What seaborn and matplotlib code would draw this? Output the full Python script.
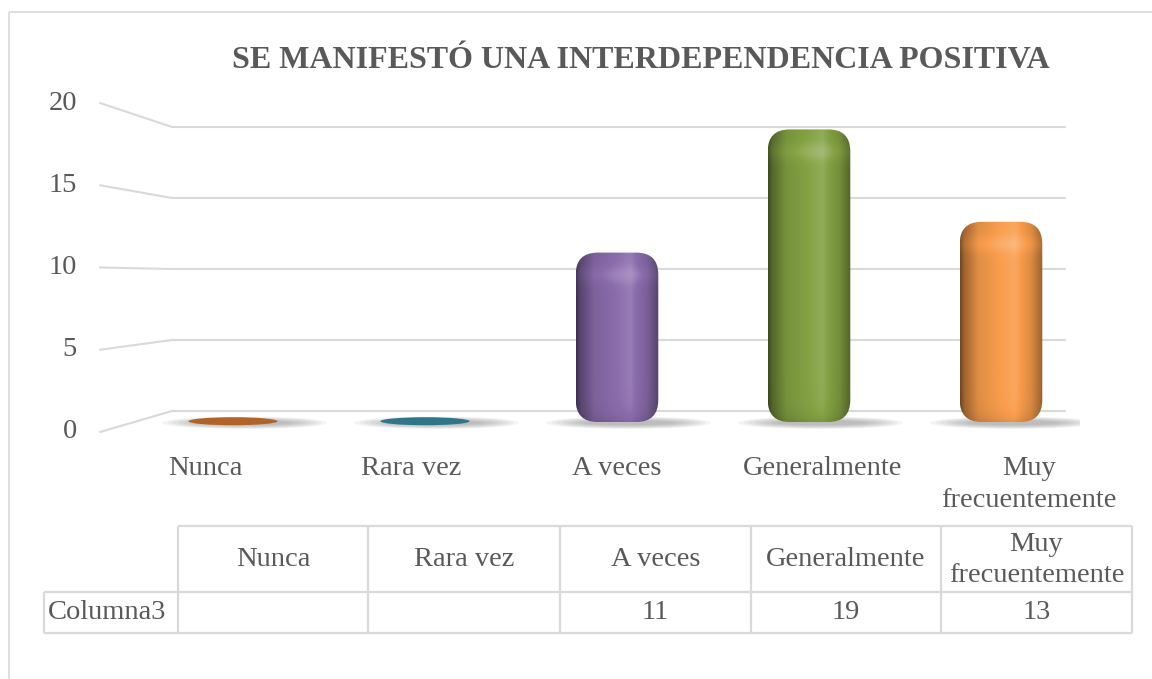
import numpy as np
import pandas as pd
import matplotlib
matplotlib.use("Agg")
import matplotlib.pyplot as plt
import seaborn as sns
from matplotlib.patches import FancyBboxPatch, Ellipse, Rectangle
from matplotlib.colors import to_rgb

# ----------------------------
# Data
# ----------------------------
categories = ["Nunca", "Rara vez", "A veces", "Generalmente", "Muy frecuentemente"]
values = [np.nan, np.nan, 11, 19, 13]   # blank cells in the data table
colors = ["#B0642A", "#2F7688", "#8A6CAC", "#84A243", "#F99D4C"]
yticks = [0, 5, 10, 15, 20]
series_name = "Columna3"
title = "SE MANIFESTÓ UNA INTERDEPENDENCIA POSITIVA"

sns.set_theme(style="white")
plt.rcParams["font.family"] = ["Liberation Serif", "DejaVu Serif"]
TXT = "#595959"
GRID = "#D9D9D9"
FS = 20.5

W, H = 1152, 679
fig = plt.figure(figsize=(W / 100, H / 100), dpi=100, facecolor="white")

def fx(px): return px / W
def fy(py): return 1 - py / H

# front plane of the 3d-ish chart: category i near 233 + 192*i px, value 0 at 422 px
X0, XS, Y0, YS = 233, 192, 422, 15.4
L, R, T, B = 95, 1080, 95, 445
ax = fig.add_axes([fx(L), fy(B), fx(R) - fx(L), fy(T) - fy(B)])
ax.patch.set_alpha(0)

def dx(px): return (px - X0) / XS
def dy(py): return (Y0 - py) / YS

df = pd.DataFrame({"cat": categories, "val": np.nan_to_num(values)})
sns.barplot(data=df, x="cat", y="val", hue="cat", order=categories, hue_order=categories,
            palette=colors, width=0.43, legend=False, ax=ax)


def shade_img(c, h_px, nx=160):
    base = np.array(to_rgb(c))
    ny = max(int(h_px), 2)
    t = np.linspace(0, 1, nx)
    f = np.interp(t, [0, .05, .22, .48, .66, .86, 1], [.45, .64, .9, 1.0, 1.05, .88, .62])
    rows = np.arange(ny)[:, None]
    # lighter band just under the rounded cap, darker at the very bottom
    f = f[None, :] + 0.07 * np.exp(-((rows - 22) / 9.0) ** 2) - 0.12 * np.exp(-((ny - rows) / 8.0))
    img = np.empty((ny, nx, 3))
    for k in range(3):
        dark = base[k] * np.minimum(f, 1)
        light = (1 - base[k]) * np.clip(f - 1, 0, None) * 2.2
        img[:, :, k] = np.clip(dark + light, 0, 1)
    return img


rnd = 22 / XS          # corner radius in x units
asp = XS / YS          # keeps corners round on screen
for p, v, c in zip(list(ax.patches), values, colors):
    p.set_visible(False)
    x0, w = p.get_x(), p.get_width()
    cx = x0 + w / 2
    # soft floor shadow
    for k in range(8):
        ax.add_patch(Ellipse((cx + 0.06, -0.05), w * (2.0 - 0.13 * k), 0.8 - 0.07 * k,
                             color="#707070", alpha=0.07, lw=0, zorder=2))
    h = p.get_height()
    if np.isnan(v) or h <= 0:
        ax.add_patch(Ellipse((cx, 0.05), w * 1.08, 0.52, color=c, lw=0, zorder=3))
        continue
    box = FancyBboxPatch((x0, 0), w, h, boxstyle=f"round,pad=0,rounding_size={rnd}",
                         mutation_aspect=asp, fc="none", ec="none", zorder=3)
    ax.add_patch(box)
    im = ax.imshow(shade_img(c, h * YS), extent=[x0, x0 + w, 0, h], origin="upper",
                   aspect="auto", zorder=3, interpolation="bilinear")
    im.set_clip_path(box)

# perspective gridlines + value labels
for g in yticks:
    yl = 432 - 16.45 * g
    yb = 411 - 14.2 * g
    ax.plot([dx(100), dx(172), dx(1065)], [dy(yl), dy(yb), dy(yb)],
            color=GRID, lw=1.5, zorder=1, clip_on=False)
    ax.text(dx(77), dy(yl), str(g), ha="right", va="center", fontsize=FS, color=TXT)

ax.set_xticks([dx(205 + 206 * i) for i in range(len(categories))])
ax.set_xticklabels([c.replace("Muy ", "Muy\n") for c in categories],
                   fontsize=FS, color=TXT, linespacing=1.35)
ax.tick_params(axis="x", length=0, pad=8)
ax.set_yticks([])
ax.set_xlabel("")
ax.set_ylabel("")
ax.set_xlim(dx(L), dx(R))
ax.set_ylim(dy(B), dy(T))
sns.despine(ax=ax, left=True, bottom=True)

fig.text(fx(641), fy(60), title, ha="center", va="center", fontsize=23,
         fontweight="bold", color=TXT)

# ----------------------------
# Data table + chart frame
# ----------------------------
tax = fig.add_axes([0, 0, 1, 1])
tax.set_xlim(0, W)
tax.set_ylim(H, 0)
tax.axis("off")
tax.add_patch(Rectangle((8.5, 11.5), 1150, 700, fill=False, ec=GRID, lw=1.2))

cols = [44, 178, 368, 560, 751, 941, 1132]
rows = [526, 592, 633]
lk = dict(color=GRID, lw=1.6, solid_capstyle="butt")
tax.plot([cols[1], cols[-1]], [rows[0]] * 2, **lk)
tax.plot([cols[0], cols[-1]], [rows[1]] * 2, **lk)
tax.plot([cols[0], cols[-1]], [rows[2]] * 2, **lk)
tax.plot([cols[0]] * 2, [rows[1], rows[2]], **lk)
for x in cols[1:]:
    tax.plot([x, x], [rows[0], rows[2]], **lk)

tax.text(cols[0] + 4, (rows[1] + rows[2]) / 2, series_name, ha="left", va="center",
         fontsize=FS, color=TXT)
for i, (c, v) in enumerate(zip(categories, values)):
    xm = (cols[i + 1] + cols[i + 2]) / 2
    tax.text(xm, (rows[0] + rows[1]) / 2 + 1, c.replace("Muy ", "Muy\n"), ha="center",
             va="center", fontsize=FS, color=TXT, linespacing=1.3)
    if not np.isnan(v):
        tax.text(xm, (rows[1] + rows[2]) / 2, f"{v:g}", ha="center", va="center",
                 fontsize=FS, color=TXT)

fig.savefig("out.png", dpi=100, facecolor="white")
